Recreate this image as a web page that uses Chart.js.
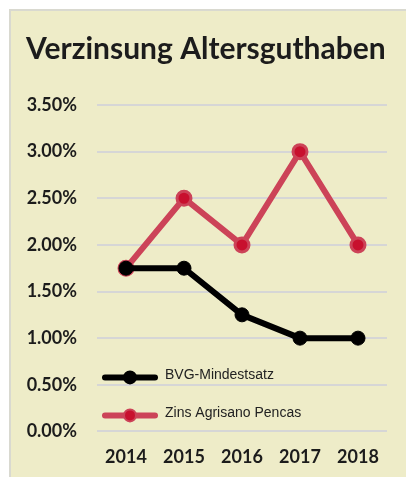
<!DOCTYPE html>
<html>
<head>
<meta charset="utf-8">
<script src="https://cdn.jsdelivr.net/npm/chart.js@4"></script>
<style>
  body { margin: 0; background: #fff; }
  #panel {
    position: absolute; left: 9px; top: 9px; width: 395px; height: 466px;
    background: #eeecc8; border-left: 2px solid #d9d9d0; border-top: 2px solid #d9d9d0;
  }
</style>
</head>
<body>
<div id="panel"><canvas id="chart" width="395" height="466"></canvas></div>
<script>
const years = ["2014", "2015", "2016", "2017", "2018"];
const bvgValues = [1.75, 1.75, 1.25, 1.00, 1.00];
const agrisanoValues = [1.75, 2.50, 2.00, 3.00, 2.00];
const seriesNames = ["BVG-Mindestsatz", "Zins Agrisano Pencas"];

// legend drawn inside the plot, bottom left
const innerLegend = {
    id: "innerLegend",
    afterDatasetsDraw(chart) {
        const ctx = chart.ctx;
        const area = chart.chartArea;
        const rows = [area.bottom - 54, area.bottom - 16];
        chart.data.datasets.forEach(function(ds, i){
            const y = rows[i];
            const x0 = area.left + 8;
            ctx.save();
            ctx.strokeStyle = ds.borderColor;
            ctx.lineWidth = 6;
            ctx.lineCap = "round";
            ctx.beginPath();
            ctx.moveTo(x0, y);
            ctx.lineTo(x0 + 50, y);
            ctx.stroke();
            ctx.fillStyle = ds.pointBackgroundColor;
            ctx.strokeStyle = ds.pointBorderColor;
            ctx.lineWidth = 2;
            ctx.beginPath();
            ctx.arc(x0 + 25, y, 6, 0, Math.PI * 2);
            ctx.fill();
            ctx.stroke();
            ctx.fillStyle = "#222";
            ctx.font = "14px 'Liberation Sans Narrow', 'Liberation Sans'";
            ctx.textBaseline = "middle";
            ctx.fillText(ds.label, x0 + 60, y - 2);
            ctx.restore();
        });
    }
};

new Chart("chart", {
    type: "line",
    data: {
        labels: years,
        datasets: [{
            label: seriesNames[0],
            data: bvgValues,
            borderColor: "#000000",
            pointBackgroundColor: "#000000",
            pointBorderColor: "#000000",
            borderWidth: 6,
            pointRadius: 7,
            pointBorderWidth: 1,
            fill: false
        },{
            label: seriesNames[1],
            data: agrisanoValues,
            borderColor: "#cc4358",
            pointBackgroundColor: "#c8102e",
            pointBorderColor: "#cc4358",
            borderWidth: 6,
            pointRadius: 7,
            pointBorderWidth: 3,
            fill: false
        }]
    },
    options: {
        responsive: false,
        animation: false,
        layout: { padding: { left: 15, right: 19, bottom: 2 } },
        plugins: {
            legend: { display: false },
            tooltip: { enabled: false },
            title: {
                display: true,
                text: "Verzinsung Altersguthaben",
                align: "start",
                color: "#1c1c1c",
                font: { family: "Lato", size: 30, weight: "bold" },
                padding: { top: 20, bottom: 38 }
            }
        },
        scales: {
            x: {
                offset: true,
                grid: { display: false },
                border: { display: false },
                ticks: { color: "#1c1c1c", padding: 7, font: { family: "Lato", size: 18, weight: "bold" } }
            },
            y: {
                min: 0,
                max: 3.5,
                grid: { color: "#d6d6d6", lineWidth: 2, drawTicks: false },
                border: { display: false },
                afterFit: function(scale){ scale.width = 71; },
                ticks: {
                    stepSize: 0.5,
                    padding: 20,
                    color: "#1c1c1c",
                    font: { family: "Lato", size: 18, weight: "bold" },
                    callback: function(v){ return v.toFixed(2) + "%"; }
                }
            }
        }
    },
    plugins: [innerLegend]
});
</script>
</body>
</html>
